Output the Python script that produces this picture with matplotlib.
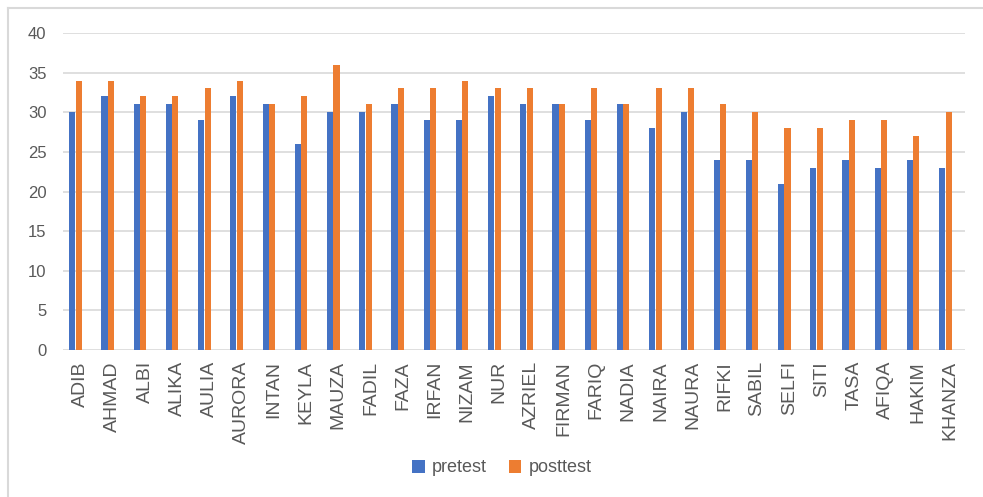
import matplotlib.pyplot as plt
import matplotlib.transforms as mtransforms
import numpy as np

# names of the students and their scores
names = ['ADIB', 'AHMAD', 'ALBI', 'ALIKA', 'AULIA', 'AURORA', 'INTAN', 'KEYLA',
         'MAUZA', 'FADIL', 'FAZA', 'IRFAN', 'NIZAM', 'NUR', 'AZRIEL', 'FIRMAN',
         'FARIQ', 'NADIA', 'NAIRA', 'NAURA', 'RIFKI', 'SABIL', 'SELFI', 'SITI',
         'TASA', 'AFIQA', 'HAKIM', 'KHANZA']
pretest = [30, 32, 31, 31, 29, 32, 31, 26, 30, 30, 31, 29, 29, 32, 31, 31,
           29, 31, 28, 30, 24, 24, 21, 23, 24, 23, 24, 23]
posttest = [34, 34, 32, 32, 33, 34, 31, 32, 36, 31, 33, 33, 34, 33, 33, 31,
            33, 31, 33, 33, 31, 30, 28, 28, 29, 29, 27, 30]
yticks = [0, 5, 10, 15, 20, 25, 30, 35, 40]

plt.rcParams['font.family'] = ['Liberation Sans', 'DejaVu Sans']

fig = plt.figure(figsize=(9.83, 4.97), dpi=100)
ax = fig.add_axes([63 / 983, 1 - 350 / 497, (965 - 63) / 983, (350 - 33) / 497])

x = np.arange(len(names))
w = 0.19
ax.bar(x - 0.1, pretest, width=w, color='#4472C4', label='pretest', zorder=3)
ax.bar(x + 0.1, posttest, width=w, color='#ED7D31', label='posttest', zorder=3)

ax.set_xlim(-0.39, len(names) - 0.39)
ax.set_ylim(0, 40)
ax.set_yticks(yticks)
ax.yaxis.grid(True, color='#d9d9d9', linewidth=1.2, zorder=0)
ax.set_axisbelow(True)
for s in ax.spines.values():
    s.set_visible(False)

ax.tick_params(axis='both', length=0, colors='#595959')
ax.tick_params(axis='y', labelsize=12, pad=12)
ax.tick_params(axis='x', pad=8)
ax.set_xticks(x)
ax.set_xticklabels(names, rotation=90, fontsize=14)
# labels sit a little right of the bar pairs in the original
shift = mtransforms.ScaledTranslation(5 / 100, 0, fig.dpi_scale_trans)
for lab in ax.get_xticklabels():
    lab.set_transform(lab.get_transform() + shift)

ax.legend(loc='center', bbox_to_anchor=(502 / 983, 1 - 468 / 497),
          bbox_transform=fig.transFigure, ncol=2, frameon=False, fontsize=13,
          handlelength=0.7, handleheight=0.7, columnspacing=1.2,
          handletextpad=0.4, labelcolor='#595959')

# light frame of the chart (top and left edges visible)
fig.add_artist(plt.Line2D([7.5 / 983, 1], [1 - 7.5 / 497] * 2,
                          transform=fig.transFigure, color='#d9d9d9', lw=1.5))
fig.add_artist(plt.Line2D([7.5 / 983] * 2, [0, 1 - 7.5 / 497],
                          transform=fig.transFigure, color='#d9d9d9', lw=1.5))

fig.savefig('out.png', dpi=100)
